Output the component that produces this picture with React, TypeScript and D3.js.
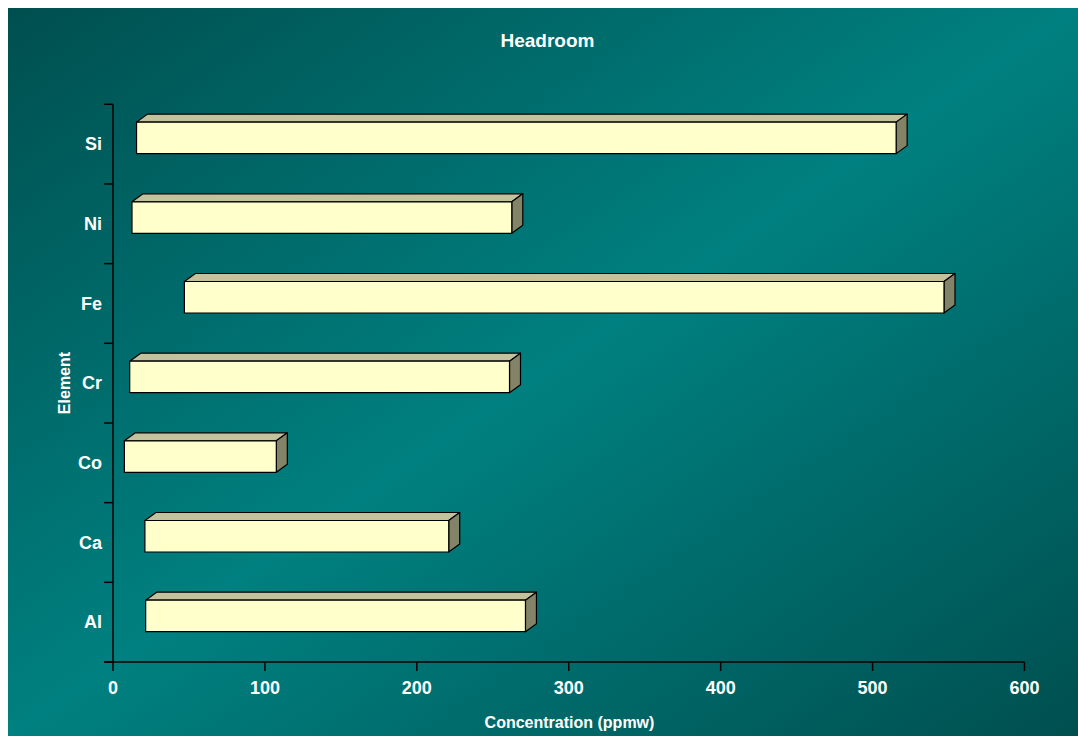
import React, { useEffect } from "react";
import * as d3 from "d3";

const categories = ["Al", "Ca", "Co", "Cr", "Fe", "Ni", "Si"];
const lowValues = [21.5, 21, 7.5, 11, 47, 12.5, 15.5];
const headroom = [250, 200, 100, 250, 500, 250, 500];
const xTicks = [0, 100, 200, 300, 400, 500, 600];

const W = 1078;
const H = 736;
const BG_X = 8;
const BG_Y = 8;
const left = 113;
const right = 1024.5;
const top = 104.3;
const bottom = 662;
const DX = 11;
const DY = 8;
const FONT = "Arial, 'Liberation Sans', sans-serif";

export default function App() {
  useEffect(() => {
    document.body.style.overflow = "hidden";
  }, []);

  const x = d3.scaleLinear().domain([0, 600]).range([left, right]);
  const y = d3
    .scaleBand<string>()
    .domain(categories)
    .range([bottom, top])
    .padding(0);
  const bw = y.bandwidth();
  const boundaries = d3.range(categories.length + 1).map((i) => bottom - i * bw);

  return (
    <svg
      width={W}
      height={H}
      style={{ display: "block", position: "fixed", left: 0, top: 0 }}
      fontFamily={FONT}
    >
      <defs>
        <linearGradient id="bg" x1="0" y1="0" x2="1" y2="1">
          <stop offset="0" stopColor="#004f4f" />
          <stop offset="0.5" stopColor="#008080" />
          <stop offset="1" stopColor="#004f4f" />
        </linearGradient>
      </defs>
      <rect x={0} y={0} width={W} height={H} fill="#fff" />
      <rect x={BG_X} y={BG_Y} width={W - BG_X} height={H - BG_Y} fill="url(#bg)" />

      <text x={547.5} y={47} textAnchor="middle" fill="#fff" fontWeight="bold" fontSize={19}>
        Headroom
      </text>

      {categories.map((c, i) => {
        const cy = (y(c) as number) + bw / 2;
        const x0 = x(lowValues[i]);
        const x1 = x(lowValues[i] + headroom[i]);
        const fy0 = cy - 22;
        const fy1 = cy + 9.5;
        const topFace = `M${x0},${fy0}L${x0 + DX},${fy0 - DY}L${x1 + DX},${fy0 - DY}L${x1},${fy0}Z`;
        const sideFace = `M${x1},${fy0}L${x1 + DX},${fy0 - DY}L${x1 + DX},${fy1 - DY}L${x1},${fy1}Z`;
        return (
          <g key={c} stroke="#000" strokeWidth={1.2} strokeLinejoin="round">
            <path d={topFace} fill="#c2c29c" />
            <path d={sideFace} fill="#838368" />
            <rect x={x0} y={fy0} width={x1 - x0} height={fy1 - fy0} fill="#ffffcc" />
          </g>
        );
      })}

      {/* axes */}
      <line x1={left} x2={left} y1={top} y2={bottom} stroke="#000" strokeWidth={1.5} />
      <line x1={left - 9} x2={right} y1={bottom} y2={bottom} stroke="#000" strokeWidth={1.5} />
      {boundaries.map((b, i) => (
        <line key={i} x1={left - 9} x2={left} y1={b} y2={b} stroke="#000" strokeWidth={1.5} />
      ))}
      {xTicks.map((t) => (
        <g key={t}>
          <line x1={x(t)} x2={x(t)} y1={bottom} y2={bottom + 9} stroke="#000" strokeWidth={1.5} />
          <text x={x(t)} y={694} textAnchor="middle" fill="#fff" fontWeight="bold" fontSize={18}>
            {t}
          </text>
        </g>
      ))}
      {categories.map((c) => (
        <text
          key={c}
          x={102}
          y={(y(c) as number) + bw / 2}
          dy="0.35em"
          textAnchor="end"
          fill="#fff"
          fontWeight="bold"
          fontSize={18}
        >
          {c}
        </text>
      ))}

      <text x={569.5} y={728} textAnchor="middle" fill="#fff" fontWeight="bold" fontSize={16}>
        Concentration (ppmw)
      </text>
      <text
        transform={`translate(70,383) rotate(-90)`}
        textAnchor="middle"
        fill="#fff"
        fontWeight="bold"
        fontSize={16}
      >
        Element
      </text>
    </svg>
  );
}
